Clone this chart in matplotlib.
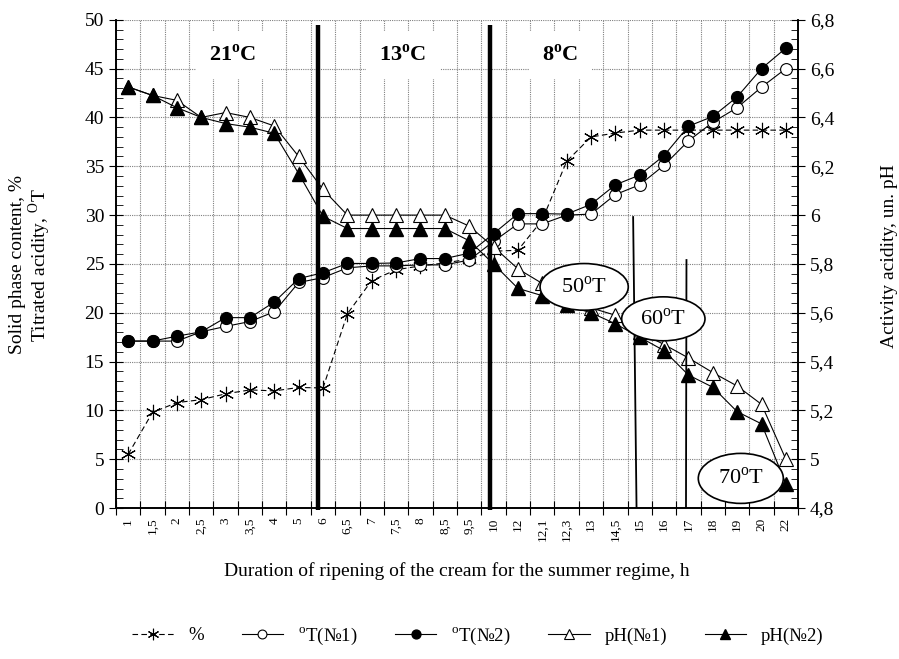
import numpy as np
import matplotlib.pyplot as plt
from matplotlib.patches import Ellipse
from matplotlib.ticker import MultipleLocator, FuncFormatter

plt.rcParams['font.family'] = ['Liberation Serif', 'DejaVu Serif']
plt.rcParams['mathtext.fontset'] = 'custom'
plt.rcParams['mathtext.rm'] = 'Liberation Serif'
plt.rcParams['mathtext.bf'] = 'Liberation Serif:bold'

# duration of ripening, h (category labels)
hours = ['1', '1,5', '2', '2,5', '3', '3,5', '4', '5', '6', '6,5', '7', '7,5',
         '8', '8,5', '9,5', '10', '12', '12,1', '12,3', '13', '14,5', '15',
         '16', '17', '18', '19', '20', '22']

# solid phase content, %
solid = [5.5, 9.8, 10.8, 11.1, 11.7, 12.1, 12.0, 12.35, 12.3, 19.9, 23.3, 24.4,
         24.8, 25.1, 25.5, 26.3, 26.4, 29.5, 35.5, 38.0, 38.4, 38.7, 38.7, 38.7,
         38.7, 38.7, 38.7, 38.7]

# titrated acidity, oT
t1 = [17.1, 17.1, 17.1, 18.05, 18.6, 19.1, 20.1, 23.1, 23.6, 24.6, 24.8, 24.8,
      24.9, 24.9, 25.4, 27.3, 29.1, 29.1, 30.0, 30.1, 32.1, 33.1, 35.1, 37.6,
      39.5, 41.0, 43.1, 45.0]
t2 = [17.1, 17.1, 17.6, 18.05, 19.5, 19.5, 21.1, 23.5, 24.1, 25.05, 25.05, 25.1,
      25.55, 25.55, 26.1, 28.1, 30.15, 30.15, 30.1, 31.1, 33.1, 34.1, 36.1, 39.1,
      40.1, 42.1, 45.0, 47.1]

# active acidity, pH
ph1 = [6.525, 6.49, 6.47, 6.40, 6.42, 6.40, 6.365, 6.24, 6.105, 6.0, 6.0, 6.0,
       6.0, 6.0, 5.955, 5.87, 5.78, 5.72, 5.665, 5.62, 5.59, 5.52, 5.47, 5.415,
       5.355, 5.30, 5.225, 5.0]
ph2 = [6.525, 6.49, 6.44, 6.40, 6.375, 6.36, 6.335, 6.17, 5.995, 5.945, 5.945,
       5.945, 5.945, 5.945, 5.895, 5.80, 5.70, 5.67, 5.63, 5.60, 5.555, 5.50,
       5.445, 5.345, 5.295, 5.195, 5.145, 4.90]

x = np.arange(len(hours)) + 0.5

fig = plt.figure(figsize=(8.99, 6.59), dpi=100)
ax = fig.add_axes([0.129, 0.229, 0.7587, 0.741])
ax2 = ax.twinx()

ax.set_xlim(0, len(hours))
ax.set_ylim(0, 50)
ax2.set_ylim(4.8, 6.8)

# ticks
ax.set_xticks(np.arange(len(hours) + 1))
ax.set_xticks(x, minor=True)
ax.set_xticklabels(hours, minor=True, rotation=90, fontsize=9.5)
ax.tick_params(axis='x', which='major', direction='inout', length=10,
               labelbottom=False)
ax.tick_params(axis='x', which='minor', length=0, pad=7)

ax.yaxis.set_major_locator(MultipleLocator(5))
ax.yaxis.set_minor_locator(MultipleLocator(1))
ax.tick_params(axis='y', which='major', direction='inout', length=10,
               labelsize=14)
ax.tick_params(axis='y', which='minor', direction='in', length=5)

ax2.yaxis.set_major_locator(MultipleLocator(0.2))
ax2.yaxis.set_minor_locator(MultipleLocator(0.04))
ax2.yaxis.set_major_formatter(
    FuncFormatter(lambda v, p: ('%g' % round(v, 2)).replace('.', ',')))
ax2.tick_params(axis='y', which='major', direction='inout', length=10,
                labelsize=14)
ax2.tick_params(axis='y', which='minor', direction='in', length=5)

for a in (ax, ax2):
    a.spines['top'].set_visible(False)
    for s in a.spines.values():
        s.set_linewidth(1.2)

ax.grid(True, which='major', color='0.5', linestyle=(0, (1, 1)),
        linewidth=0.8, zorder=0)
ax.set_axisbelow(True)

# data
lw = 0.8
h_sol, = ax.plot(x, solid, color='k', lw=lw, linestyle=(0, (5, 3)),
                 marker=(6, 2, 0), ms=11, mew=0.8, mec='k', label='%')
h_t1, = ax.plot(x, t1, color='k', lw=lw, marker='o', ms=8.5, mfc='white',
                mec='k', mew=0.8, label='$^{\\rm o}$T(№1)')
h_t2, = ax.plot(x, t2, color='k', lw=lw, marker='o', ms=8.5, mfc='k',
                mec='k', label='$^{\\rm o}$T(№2)')
h_p1, = ax2.plot(x, ph1, color='k', lw=lw, marker='^', ms=9.5, mfc='white',
                 mec='k', mew=0.8, label='pH(№1)', zorder=3)
h_p2, = ax2.plot(x, ph2, color='k', lw=lw, marker='^', ms=9.5, mfc='k',
                 mec='k', label='pH(№2)', zorder=3)

# regime borders
for xb in (8.29, 15.35):
    ax2.plot([xb, xb], [-0.2, 49.5], transform=ax.transData, color='k',
             lw=3.2, zorder=4, clip_on=False, solid_capstyle='butt')

# acidity marks
ax2.plot([21.23, 21.37], [29.8, 0], transform=ax.transData, color='k',
         lw=1.3, zorder=4)
ax2.plot([23.42, 23.40], [25.4, 0], transform=ax.transData, color='k',
         lw=1.3, zorder=4)

# temperature labels
for xt, txt in ((4.8, '21$^\\mathbf{o}$C'), (11.78, '13$^\\mathbf{o}$C'),
                (18.25, '8$^\\mathbf{o}$C')):
    ax2.text(xt, 46.4, txt, transform=ax.transData, ha='center', va='center',
             fontsize=16, fontweight='bold', zorder=6,
             bbox=dict(boxstyle='square,pad=0.6', fc='white', ec='none'))

# titrated acidity ellipses
for (ex, ey, ew, eh), txt in (((19.22, 22.65, 3.62, 4.78), '50$^{\\rm o}$T'),
                              ((22.47, 19.38, 3.42, 4.50), '60$^{\\rm o}$T'),
                              ((25.65, 3.04, 3.49, 5.12), '70$^{\\rm o}$T')):
    ax2.add_patch(Ellipse((ex, ey), ew, eh, transform=ax.transData,
                          fc='white', ec='k', lw=1.2, zorder=7))
    ax2.text(ex, ey, txt, transform=ax.transData, ha='center', va='center',
             fontsize=16, zorder=8)

# axis titles
fig.text(18 / 899, 1 - 265 / 659, 'Solid phase content, %', rotation=90,
         ha='center', va='center', fontsize=14)
fig.text(40 / 899, 1 - 265 / 659, 'Titrated acidity, $^{\\rm O}$T',
         rotation=90, ha='center', va='center', fontsize=14)
fig.text(889 / 899, 1 - 256 / 659, 'Activity acidity, un. pH', rotation=90,
         ha='center', va='center', fontsize=14)
fig.text(457 / 899, 1 - 571 / 659,
         'Duration of ripening of the cream for the summer regime, h',
         ha='center', va='center', fontsize=14)

fig.legend(handles=[h_sol, h_t1, h_t2, h_p1, h_p2], loc='center',
           bbox_to_anchor=(478 / 899, 1 - 636 / 659), ncol=5, frameon=False,
           fontsize=13.5, handlelength=2.2, columnspacing=2.0,
           markerscale=0.75)

fig.savefig('out.png', dpi=100)
